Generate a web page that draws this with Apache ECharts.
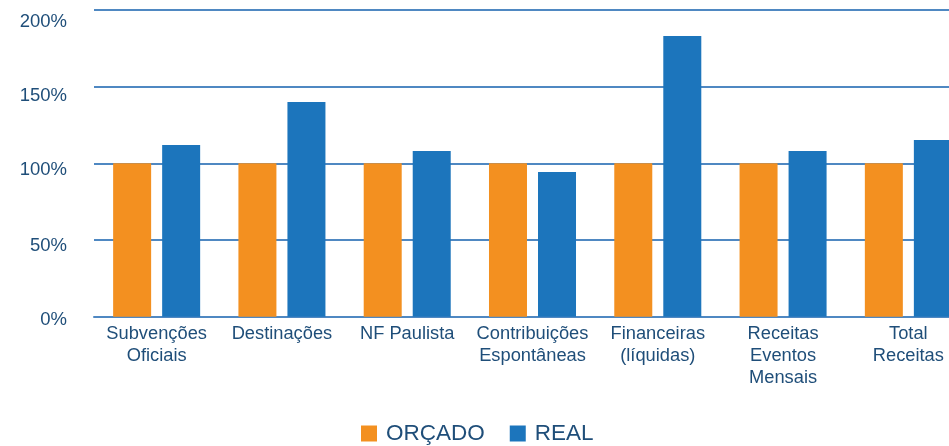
<!DOCTYPE html>
<html>
<head>
<meta charset="utf-8">
<script src="https://cdn.jsdelivr.net/npm/echarts@6/dist/echarts.min.js"></script>
<style>
html,body{margin:0;padding:0;background:#fff;}
#chart{width:949px;height:446px;}
</style>
</head>
<body>
<div id="chart"></div>
<script>
const categories = ['Subvenções\nOficiais', 'Destinações', 'NF Paulista', 'Contribuições\nEspontâneas', 'Financeiras\n(líquidas)', 'Receitas\nEventos\nMensais', 'Total\nReceitas'];
const orcado = [100, 100, 100, 100, 100, 100, 100];
const real = [112, 140, 108, 94.4, 183, 108.1, 115.2];
const yTicks = [0, 50, 100, 150, 200];
const seriesNames = ['ORÇADO', 'REAL'];

const textColor = '#1F4E79';
const lineColor = '#4f88c2';
const font = '"Liberation Sans", Arial, sans-serif';

const labelPad = {0: 6, 50: 12, 100: 14, 150: 18, 200: 24};
const rich = {};
yTicks.forEach(v => {
  rich['t' + v] = {padding: [labelPad[v], 0, 0, 0], fontSize: 18.5, color: textColor, fontFamily: font};
});

const chart = echarts.init(document.getElementById('chart'), null, {renderer: 'canvas'});
chart.setOption({
  animation: false,
  backgroundColor: '#fff',
  textStyle: {fontFamily: font},
  grid: {left: 94, width: 877, top: 10, bottom: 129.3, containLabel: false, outerBoundsMode: 'none'},
  legend: {
    data: seriesNames,
    left: 356,
    top: 417,
    itemWidth: 16,
    itemHeight: 16,
    itemGap: 25,
    icon: 'rect',
    textStyle: {fontSize: 22.5, color: textColor, fontFamily: font, padding: [0, 0, 0, 4]}
  },
  xAxis: {
    type: 'category',
    data: categories,
    axisLine: {show: true, lineStyle: {color: lineColor, width: 2}},
    axisTick: {show: false},
    axisLabel: {interval: 0, fontSize: 18.3, lineHeight: 22, color: textColor, margin: 6, fontFamily: font}
  },
  yAxis: {
    type: 'value',
    min: 0,
    max: 200,
    interval: 50,
    axisLine: {show: false},
    axisTick: {show: false},
    splitLine: {lineStyle: {color: lineColor, width: 2}},
    axisLabel: {
      margin: 27,
      formatter: v => '{t' + v + '|' + v + '%}',
      rich: rich
    }
  },
  series: [
    {name: seriesNames[0], type: 'bar', data: orcado, barWidth: 38, barGap: '29%', itemStyle: {color: '#F39020'}},
    {name: seriesNames[1], type: 'bar', data: real, barWidth: 38, itemStyle: {color: '#1C75BC'}}
  ]
});
</script>
</body>
</html>
